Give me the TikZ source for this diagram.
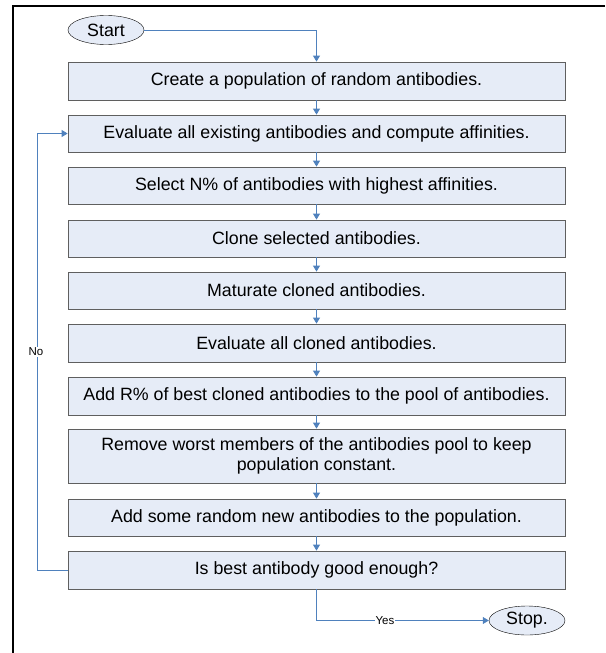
\documentclass[tikz,border=0pt]{standalone}
\usepackage{fontspec}
\setmainfont{Liberation Sans}
\usetikzlibrary{shapes.geometric,arrows.meta}
\definecolor{boxfill}{RGB}{230,236,247}
\definecolor{boxline}{RGB}{95,95,95}
\definecolor{flow}{RGB}{79,129,189}
\tikzset{
  stepbox/.style={draw=boxline,fill=boxfill,thick,minimum width=497pt,align=center,
    font=\fontsize{17.8}{20}\selectfont,inner sep=0pt},
  term/.style={ellipse,draw=black,fill=boxfill,minimum width=76pt,minimum height=29pt,
    font=\fontsize{17.8}{20}\selectfont,inner sep=0pt},
  link/.style={flow,thick,-{Triangle[width=7pt,length=6pt]}},
  tag/.style={fill=white,inner sep=1pt,font=\fontsize{11.5}{13}\selectfont}
}
\begin{document}
\begin{tikzpicture}[x=1pt,y=-1pt]
  \useasboundingbox (0,0) rectangle (605,653);
  % frame
  \draw[line width=2.5pt] (13,653) -- (13,6) -- (605,6);
  % terminals
  \node[term] (start) at (106,30) {Start};
  \node[term] (stop) at (527,620.5) {Stop.};
  % steps
  \node[stepbox,minimum height=38pt] (b1) at (316.5,81) {Create a population of random antibodies.};
  \node[stepbox,minimum height=37pt] (b2) at (316.5,133.5) {Evaluate all existing antibodies and compute affinities.};
  \node[stepbox,minimum height=37pt] (b3) at (316.5,185.5) {Select N\% of antibodies with highest affinities.};
  \node[stepbox,minimum height=37pt] (b4) at (316.5,238.5) {Clone selected antibodies.};
  \node[stepbox,minimum height=37pt] (b5) at (316.5,290.5) {Maturate cloned antibodies.};
  \node[stepbox,minimum height=38pt] (b6) at (316.5,343) {Evaluate all cloned antibodies.};
  \node[stepbox,minimum height=38pt] (b7) at (316.5,396) {Add R\% of best cloned antibodies to the pool of antibodies.};
  \node[stepbox,minimum height=54pt] (b8) at (316.5,456) {Remove worst members of the antibodies pool to keep\\population constant.};
  \node[stepbox,minimum height=37pt] (b9) at (316.5,517.5) {Add some random new antibodies to the population.};
  \node[stepbox,minimum height=38pt] (b10) at (316.5,570) {Is best antibody good enough?};
  % flow
  \draw[link] (start.east) -| (b1.north);
  \foreach \a/\b in {b1/b2,b2/b3,b3/b4,b4/b5,b5/b6,b6/b7,b7/b8,b8/b9,b9/b10}
    \draw[link] (\a) -- (\b);
  \coordinate (back) at (37,570);
  \draw[link] (b10.west) -- (back) |- (b2.west);
  \node[tag] (no) at (36,352) {No};
  \coordinate (bend) at (316.5,620.5);
  \draw[link] (b10.south) -- (bend) -- (stop.west);
  \node[tag] (yes) at (385,620.5) {Yes};
\end{tikzpicture}
\end{document}
